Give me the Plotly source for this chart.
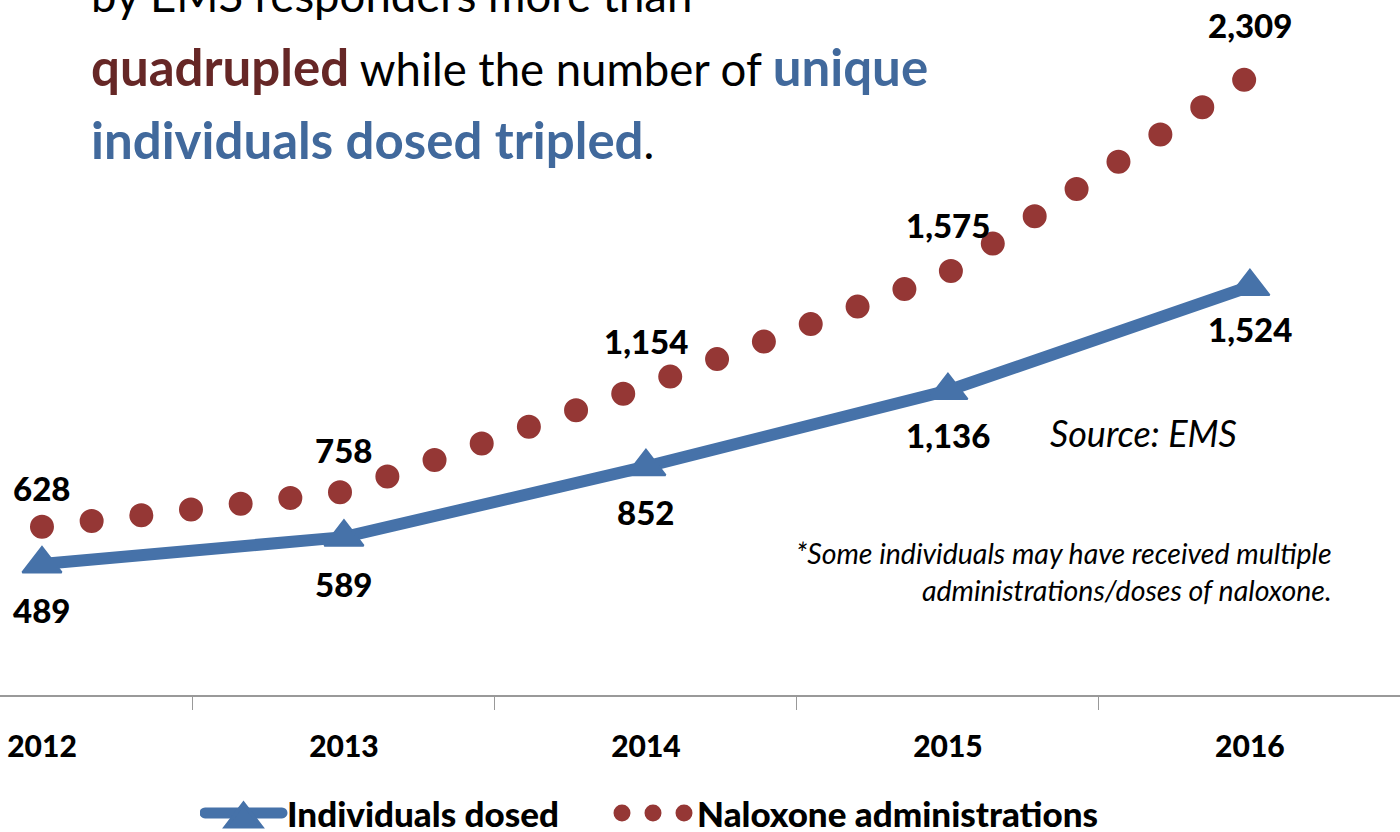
import plotly.graph_objects as go

# Series values
years = ["2012", "2013", "2014", "2015", "2016"]
individuals_dosed = [489, 589, 852, 1136, 1524]
naloxone_admin = [628, 758, 1154, 1575, 2309]

# Label offsets (px) from each point
naloxone_label_shift = [39, 42, 45, 48, 51]
individuals_label_shift = [-46, -47, -45, -44.5, -42.5]

BLUE = "#4672A9"
RED = "#953735"
TITLE_RED = "#662726"
TITLE_BLUE = "#41699C"
FONT = "Lato"

fig = go.Figure()

fig.add_trace(go.Scatter(
    x=years, y=individuals_dosed, name="Individuals dosed",
    mode="lines+markers",
    line=dict(color=BLUE, width=12),
    marker=dict(symbol="triangle-up", size=34, color=BLUE,
                line=dict(color=BLUE, width=2)),
    legend="legend", hoverinfo="skip",
))
fig.add_trace(go.Scatter(
    x=years, y=naloxone_admin, name="Naloxone administrations",
    mode="lines",
    line=dict(color=RED, width=24, dash="dot"),
    legend="legend2", hoverinfo="skip",
))

label_font = dict(family=FONT, size=33, color="black", weight=900)
for i, (v, dy) in enumerate(zip(naloxone_admin, naloxone_label_shift)):
    fig.add_annotation(x=i, y=v, xref="x", yref="y", text=f"{v:,}",
                       showarrow=False, yshift=dy, font=label_font)
for i, (v, dy) in enumerate(zip(individuals_dosed, individuals_label_shift)):
    fig.add_annotation(x=i, y=v, xref="x", yref="y", text=f"{v:,}",
                       showarrow=False, yshift=dy, font=label_font)

# Headline text
head_font = dict(family=FONT, size=45.5, color="black")
B = "font-size:51px"
fig.add_annotation(xref="paper", yref="paper", x=89 / 1400, y=1.0086,
                   xanchor="left", yanchor="middle", showarrow=False,
                   text="by EMS responders more than", font=head_font)
fig.add_annotation(xref="paper", yref="paper", x=89 / 1400, y=0.9036,
                   xanchor="left", yanchor="middle", showarrow=False,
                   text=(f"<b><span style='color:{TITLE_RED};{B}'>quadrupled</span></b>"
                         f" while the number of "
                         f"<b><span style='color:{TITLE_BLUE};{B}'>unique</span></b>"),
                   font=head_font)
fig.add_annotation(xref="paper", yref="paper", x=89 / 1400, y=0.7986,
                   xanchor="left", yanchor="middle", showarrow=False,
                   text=f"<b><span style='color:{TITLE_BLUE};{B}'>individuals dosed tripled</span></b>.",
                   font=head_font)

# Source and footnote
fig.add_annotation(xref="paper", yref="paper", x=1048 / 1400, y=0.377,
                   xanchor="left", yanchor="middle", showarrow=False,
                   text="<i>Source: EMS</i>",
                   font=dict(family=FONT, size=36, color="black"))
fig.add_annotation(xref="paper", yref="paper", x=1334 / 1400, y=0.177,
                   xanchor="right", yanchor="middle", showarrow=False, align="right",
                   text="<i>*Some individuals may have received multiple<br>"
                        "administrations/doses of naloxone.</i>",
                   font=dict(family=FONT, size=28.5, color="black"))

legend_font = dict(family=FONT, size=35, color="black", weight=900)
legend_common = dict(orientation="h", xanchor="left", y=-0.170, yanchor="middle",
                     itemwidth=77, font=legend_font, bgcolor="rgba(0,0,0,0)")

fig.update_layout(
    width=1400, height=832,
    margin=dict(l=0, r=0, t=0, b=137, autoexpand=False),
    paper_bgcolor="white", plot_bgcolor="white",
    showlegend=True,
    legend=dict(x=200 / 1400, **legend_common),
    legend2=dict(x=610 / 1400, **legend_common),
    xaxis=dict(type="category", range=[-0.139, 4.497],
               showline=True, linecolor="#999999", linewidth=2,
               ticks="outside", tickson="boundaries", ticklen=13,
               tickcolor="#999999", tickwidth=1,
               showgrid=False, zeroline=False, ticklabelstandoff=24,
               tickfont=dict(family=FONT, size=30, color="black", weight=900)),
    yaxis=dict(range=[0, 2593], visible=False, showgrid=False, zeroline=False),
)

post = """
var gd = document.getElementById('{plot_id}');
function styleDots() {
  var traces = gd.querySelectorAll('.scatterlayer .trace');
  if (traces.length > 1) {
    var p = traces[1].querySelector('path.js-line');
    if (p) { p.style.strokeLinecap = 'round'; p.style.strokeDasharray = '0px,50px'; }
  }
  var l0 = gd.querySelector('.legend .traces path.js-line');
  if (l0) { l0.style.strokeWidth = '11px'; l0.style.strokeLinecap = 'round'; }
  var m0 = gd.querySelector('.legend .traces .legendpoints path');
  if (m0) {
    var t = m0.getAttribute('transform') || '';
    if (t.indexOf('scale') < 0) { m0.setAttribute('transform', t + ' translate(0,6) scale(1.9)'); }
  }
  var l1 = gd.querySelector('.legend2 .traces path.js-line');
  if (l1) {
    l1.style.strokeLinecap = 'round'; l1.style.strokeWidth = '17px';
    l1.style.strokeDasharray = '0px,31px'; l1.style.strokeDashoffset = '-7px';
  }
}
styleDots();
gd.on('plotly_afterplot', styleDots);
"""

fig.write_html("out.html", post_script=post)
